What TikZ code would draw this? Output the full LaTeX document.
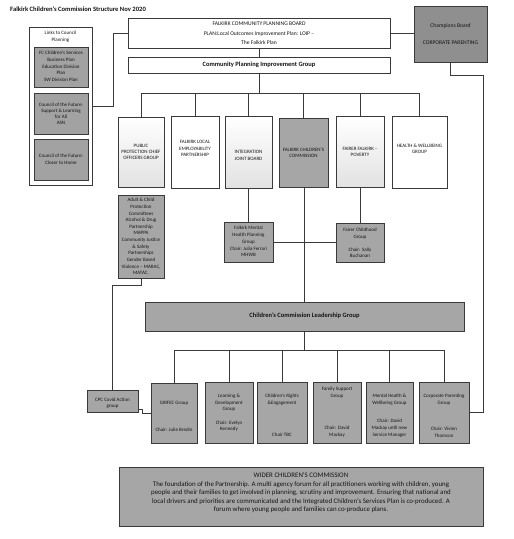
\documentclass[tikz,border=0pt]{standalone}
\usepackage{fontspec}
\setmainfont{Carlito}
\definecolor{lc}{HTML}{3A3A3A}
\definecolor{gA}{HTML}{A6A6A6}
\definecolor{gL}{HTML}{A2A2A2}
\definecolor{gC}{HTML}{8F8F8F}
\definecolor{gS}{HTML}{E2E2E2}
\definecolor{tc}{HTML}{141414}
\begin{document}
\begin{tikzpicture}[x=1pt,y=-1pt,
  ln/.style={draw=lc, line width=0.75pt},
  bx/.style={draw=lc, line width=0.75pt, inner sep=0pt, anchor=center},
  gbox/.style={bx, fill=gA},
  wbox/.style={bx, fill=white},
  sbox/.style={bx, top color=white, bottom color=gS},
  txt/.style={align=center, inner sep=0pt, text=tc, font=\fontsize{5}{6.7}\selectfont},
  hd/.style={txt, font=\fontsize{6.5}{7}\selectfont\bfseries}
]
\fill[white] (0,0) rectangle (514,539);
\useasboundingbox (0,0) rectangle (514,539);

% title
\node[txt, anchor=west, font=\fontsize{6.6}{7}\selectfont\bfseries] (title) at (10,9) {Falkirk Children’s Commission Structure Nov 2020};

% links to council planning
\node[wbox, minimum width=63pt, minimum height=158pt] (links) at (60.5,106) {};
\node[txt] (linkst) at (60.5,37) {Links to Council\\Planning};
\node[bx, fill=gL, minimum width=54pt, minimum height=40pt] (lk1) at (61,67) {};
\node[txt, font=\fontsize{5}{6.8}\selectfont] (lk1t) at (61,66.3) {FC Children’s Services\\Business Plan\\Education Division\\Plan\\SW Division Plan};
\node[bx, fill=gL, minimum width=54pt, minimum height=41pt] (lk2) at (61,113.5) {};
\node[txt, font=\fontsize{5}{6}\selectfont] (lk2t) at (61,113.7) {Council of the Future:\\Support \& Learning\\for All\\ASN};
\node[bx, fill=gL, minimum width=54pt, minimum height=41pt] (lk3) at (61,159.5) {};
\node[txt, font=\fontsize{5}{7}\selectfont] (lk3t) at (61,159.7) {Council of the Future:\\Closer to Home};

% planning board
\node[wbox, minimum width=262pt, minimum height=30pt] (fcpb) at (259,33) {};
\node[txt, font=\fontsize{5.6}{9.5}\selectfont] (fcpbt) at (259,33.5) {FALKIRK COMMUNITY PLANNING BOARD\\PLAN:Local Outcomes Improvement Plan: LOIP –\\The Falkirk Plan};
\node[wbox, minimum width=262pt, minimum height=16pt] (cpig) at (259,65) {};
\node[hd] (cpigt) at (259,65) {Community Planning Improvement Group};

% champions board
\node[bx, fill=gC, minimum width=73pt, minimum height=56pt] (champ) at (450.5,34) {};
\node[txt, font=\fontsize{5.6}{17}\selectfont] (champt) at (450.5,34.5) {Champions Board\\CORPORATE PARENTING};

% partnership row
\node[sbox, minimum width=46pt, minimum height=70pt] (b1) at (141,152) {};
\node[txt, font=\fontsize{5}{6}\selectfont] (b1t) at (141,152) {PUBLIC\\PROTECTION CHIEF\\OFFICERS GROUP};
\node[wbox, minimum width=48pt, minimum height=72pt] (b2) at (195,152) {};
\node[txt, font=\fontsize{5}{6.4}\selectfont] (b2t) at (195,148.7) {FALKIRK LOCAL\\EMPLOYABILITY\\PARTNERSHIP};
\node[sbox, minimum width=47pt, minimum height=72pt] (b3) at (248.5,152) {};
\node[txt, font=\fontsize{5}{7}\selectfont] (b3t) at (248.5,155.8) {INTEGRATION\\JOINT BOARD};
\node[gbox, minimum width=49pt, minimum height=69pt] (b4) at (303.5,152.5) {};
\node[txt, font=\fontsize{5}{6.7}\selectfont] (b4t) at (303.5,152.7) {FALKIRK CHILDREN’S\\COMMISSION};
\node[sbox, minimum width=48pt, minimum height=71pt] (b5) at (360,151.5) {};
\node[txt, font=\fontsize{5}{6}\selectfont] (b5t) at (360,152.3) {FAIRER FALKIRK –\\POVERTY};
\node[wbox, minimum width=55pt, minimum height=72pt] (b6) at (419.5,152) {};
\node[txt, font=\fontsize{5}{5.7}\selectfont] (b6t) at (419.5,148.8) {HEALTH \& WELLBEING\\GROUP};

% sub groups
\node[gbox, minimum width=46pt, minimum height=83pt] (adult) at (141,236.5) {};
\node[txt, font=\fontsize{5}{6.65}\selectfont] (adultt) at (141,236.6) {Adult \& Child\\Protection\\Committees\\Alcohol \& Drug\\Partnership\\MAPPA\\Community Justice\\\& Safety\\Partnerships\\Gender Based\\Violence – MARAC,\\MATAC.};
\node[gbox, minimum width=49pt, minimum height=40pt] (mhp) at (248.5,242) {};
\node[txt] (mhpt) at (248.5,241.6) {Falkirk Mental\\Health Planning\\Group\\Chair: Julia Ferrari\\MHWB};
\node[gbox, minimum width=48pt, minimum height=39pt] (fcg) at (360,242.5) {};
\node[txt, font=\fontsize{5}{6.5}\selectfont] (fcgt) at (360,243) {Fairer Childhood\\Group\\[6.5pt]Chair: Sally\\Buchanan};

% leadership group
\node[gbox, minimum width=319pt, minimum height=29pt] (lead) at (304.5,316.5) {};
\node[hd, font=\fontsize{6.5}{7}\selectfont\bfseries] (leadt) at (304.5,315.7) {Children’s Commission Leadership Group};

% CPC covid
\node[gbox, minimum width=51pt, minimum height=22pt] (cpc) at (112.5,401) {};
\node[txt, font=\fontsize{5}{6}\selectfont] (cpct) at (112.5,403) {CPC Covid Action\\group};

% bottom row
\node[gbox, minimum width=46pt, minimum height=60pt] (c1) at (174,413) {};
\node[txt, font=\fontsize{5}{6}\selectfont] (c1t) at (174,416.6) {GIRFEC Group\\[20.7pt]Chair: Julie Bredin};
\node[gbox, minimum width=48pt, minimum height=61pt] (c2) at (229,412.5) {};
\node[txt, font=\fontsize{5}{6.3}\selectfont] (c2t) at (229,413) {Learning \&\\Development\\Group\\[7.7pt]Chair: Evelyn\\Kennedy};
\node[gbox, minimum width=50pt, minimum height=61pt] (c3) at (282,412.5) {};
\node[txt, font=\fontsize{5}{6.3}\selectfont] (c3t) at (282,415.4) {Children’s Rights\\\&Engagement\\[26pt]Chair TBC};
\node[gbox, minimum width=48pt, minimum height=61pt] (c4) at (337,412.5) {};
\node[txt, font=\fontsize{5}{6.4}\selectfont] (c4t) at (337,412.2) {Family Support\\Group\\[26.5pt]Chair: David\\Mackay};
\node[gbox, minimum width=47pt, minimum height=61pt] (c5) at (389.5,412.5) {};
\node[txt, font=\fontsize{5}{7}\selectfont] (c5t) at (389.5,415.8) {Mental Health \&\\Wellbeing Group\\[11.5pt]Chair: David\\Mackay until new\\Service Manager};
\node[gbox, minimum width=50pt, minimum height=61pt] (c6) at (444,412.5) {};
\node[txt, font=\fontsize{5}{7}\selectfont] (c6t) at (444,415.8) {Corporate Parenting\\Group\\[18.7pt]Chair: Vivien\\Thomson};

% wider commission
\node[gbox, minimum width=364pt, minimum height=59pt] (wider) at (301,496.5) {};
\node[txt, font=\fontsize{6.9}{8.5}\selectfont] (widert) at (301,493) {WIDER CHILDREN’S COMMISSION\\The foundation of the Partnership. A multi agency forum for all practitioners working with children, young\\people and their families to get involved in planning, scrutiny and improvement. Ensuring that national and\\local drivers and priorities are communicated and the Integrated Children’s Services Plan is co-produced. A\\forum where young people and families can co-produce plans.};

% connectors
\coordinate (bus1) at (259,93);
\coordinate (bus2) at (304,350);
\coordinate (jr) at (483,75);
\draw[ln] (links.east) -- ++(21,0) |- (fcpb.west);
\draw[ln] (fcpb.south) -- (cpig.north);
\draw[ln] (fcpb.east) -- (fcpb.east -| champ.west);
\draw[ln] (champ.south) |- (jr) |- (c6.east);
\draw[ln] (cpig.south) -- (bus1);
\foreach \b in {b1,b2,b3,b4,b5,b6} \draw[ln] (bus1) -| (\b.north);
\draw[ln] (b3.south) -- (mhp.north);
\draw[ln] (b5.south) -- (fcg.north);
\draw[ln] (mhp.east) -- ++(48,0) |- (fcg.west);
\draw[ln] (b4.south -| bus2) -- (lead.north -| bus2);
\draw[ln] (lead.south -| bus2) -- (bus2);
\foreach \c in {c1,c2,c3,c4,c5,c6} \draw[ln] (bus2) -| (\c.north);
\draw[ln] (adult.south) -- ++(0,7) -| (cpc.north);
\draw[ln] ([yshift=-8pt]cpc.east) -- ++(4,0) |- (c1.west);
\end{tikzpicture}
\end{document}
